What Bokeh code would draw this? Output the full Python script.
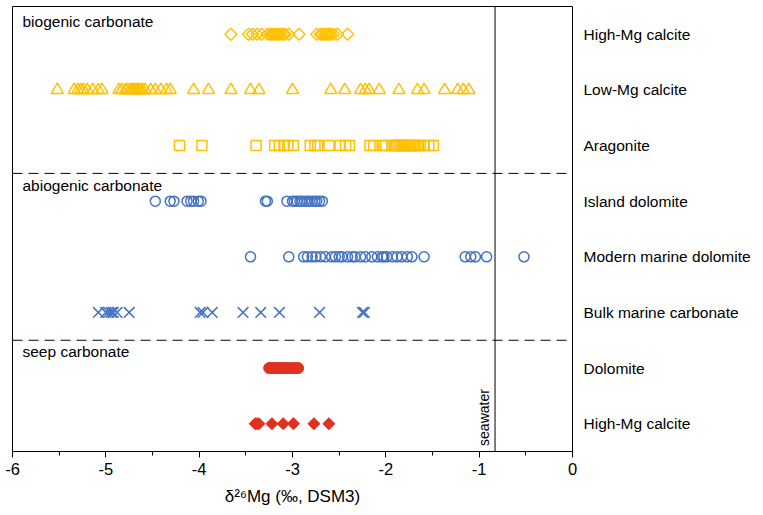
import math
from bokeh.plotting import figure
from bokeh.models import Range1d, FixedTicker, Span, Label
from bokeh.embed import file_html
from bokeh.resources import INLINE

# ---- data (delta26Mg, permil DSM3) ----
bio_high_mg_calcite = [-3.66, -3.47, -3.43, -3.38, -3.33, -3.27, -3.24, -3.22, -3.20, -3.18,
                       -3.16, -3.15, -3.13, -3.10, -3.08, -3.04, -2.93, -2.74, -2.70, -2.68,
                       -2.65, -2.63, -2.61, -2.59, -2.56, -2.52, -2.41]
bio_low_mg_calcite = [-5.52, -5.34, -5.30, -5.27, -5.24, -5.20, -5.14, -5.08, -5.04, -4.86,
                      -4.83, -4.79, -4.77, -4.74, -4.72, -4.70, -4.68, -4.66, -4.65, -4.63,
                      -4.61, -4.58, -4.52, -4.47, -4.41, -4.35, -4.31, -4.06, -3.90, -3.66,
                      -3.45, -3.36, -3.00, -2.59, -2.44, -2.27, -2.22, -2.18, -2.07, -1.86,
                      -1.66, -1.59, -1.37, -1.23, -1.17, -1.11]
bio_aragonite = [-4.21, -3.97, -3.39, -3.19, -3.14, -3.09, -3.05, -2.99, -2.81, -2.76,
                 -2.73, -2.61, -2.49, -2.43, -2.39, -2.17, -2.13, -2.04, -2.00, -1.93,
                 -1.91, -1.89, -1.88, -1.86, -1.84, -1.82, -1.81, -1.79, -1.77, -1.75,
                 -1.74, -1.72, -1.70, -1.68, -1.66, -1.63, -1.59, -1.54, -1.49]
abio_island_dolomite = [-4.47, -4.31, -4.27, -4.13, -4.09, -4.06, -4.01, -3.98, -3.29, -3.27,
                        -3.06, -3.00, -2.98, -2.95, -2.92, -2.90, -2.87, -2.84, -2.82, -2.79,
                        -2.76, -2.74, -2.71, -2.68]
abio_modern_marine_dolomite = [-3.45, -3.04, -2.88, -2.84, -2.79, -2.75, -2.70, -2.65, -2.58,
                               -2.54, -2.50, -2.47, -2.41, -2.36, -2.33, -2.27, -2.22, -2.15,
                               -2.09, -2.04, -2.02, -1.99, -1.93, -1.88, -1.83, -1.77, -1.72,
                               -1.59, -1.15, -1.09, -1.04, -0.92, -0.52]
abio_bulk_marine_carbonate = [-5.08, -5.00, -4.97, -4.94, -4.92, -4.88, -4.75, -3.99, -3.96,
                              -3.86, -3.53, -3.34, -3.14, -2.71, -2.25, -2.23]
seep_dolomite = [-3.25, -3.22, -3.19, -3.16, -3.13, -3.10, -3.07, -3.04, -3.00, -2.97, -2.94]
seep_high_mg_calcite = [-3.40, -3.38, -3.36, -3.22, -3.10, -2.99, -2.77, -2.61]

row_labels = ["High-Mg calcite", "Dolomite", "Bulk marine carbonate", "Modern marine dolomite",
              "Island dolomite", "Aragonite", "Low-Mg calcite", "High-Mg calcite"]
row_pos = [1, 2, 3, 4, 5, 6, 7, 8]
x_ticks = [-6, -5, -4, -3, -2, -1, 0]
x_minor = [-5.5, -4.5, -3.5, -2.5, -1.5, -0.5]
group_names = ["biogenic carbonate", "abiogenic carbonate", "seep carbonate"]
group_label_y = [8.23, 5.29, 2.29]
group_dividers = [5.5, 2.5]
seawater = -0.83

GOLD = "#FFC000"
BLUE = "#4472C4"
RED = "#E0301E"
FONT = "Liberation Sans"

p = figure(width=763, height=515, output_backend="svg", toolbar_location=None,
           x_range=Range1d(-6, 0), y_range=Range1d(0.5, 8.5),
           y_axis_location="right", min_border_left=12, min_border_top=6,
           min_border_right=191, min_border_bottom=64)
p.background_fill_color = "white"
p.border_fill_color = "white"
p.outline_line_color = "black"
p.outline_line_width = 1
p.xgrid.visible = False
p.ygrid.visible = False

# x axis
xa = p.xaxis[0]
xa.ticker = FixedTicker(ticks=x_ticks, minor_ticks=x_minor)
xa.major_label_overrides = {t: str(t) for t in x_ticks}
xa.major_tick_out = 6
xa.major_tick_in = 0
xa.minor_tick_out = 4
xa.minor_tick_in = 0
xa.axis_line_color = "black"
xa.major_tick_line_color = "black"
xa.minor_tick_line_color = "black"
xa.major_label_text_font = FONT
xa.major_label_text_font_size = "16.5px"
xa.major_label_text_color = "black"
xa.major_label_standoff = 5
xa.axis_label = "δ²⁶Mg (‰, DSM3)"
xa.axis_label_text_font = FONT
xa.axis_label_text_font_size = "17px"
xa.axis_label_text_font_style = "normal"
xa.axis_label_text_color = "black"
xa.axis_label_standoff = 9

# right axis with category names
ya = p.yaxis[0]
ya.ticker = FixedTicker(ticks=row_pos, minor_ticks=[])
ya.major_label_overrides = {k: v for k, v in zip(row_pos, row_labels)}
ya.major_tick_out = 0
ya.major_tick_in = 0
ya.minor_tick_out = 0
ya.minor_tick_in = 0
ya.axis_line_color = None
ya.major_label_standoff = 11
ya.major_label_text_font = FONT
ya.major_label_text_font_size = "15.5px"
ya.major_label_text_color = "black"

# markers
def ys(vals, k):
    return [k] * len(vals)

p.scatter(bio_high_mg_calcite, ys(bio_high_mg_calcite, 8), marker="square", angle=math.pi / 4,
          size=8.5, fill_color=None, line_color=GOLD, line_width=1.5)
p.scatter(bio_low_mg_calcite, ys(bio_low_mg_calcite, 7), marker="triangle",
          size=12, fill_color=None, line_color=GOLD, line_width=1.5)
p.scatter(bio_aragonite, ys(bio_aragonite, 6), marker="square",
          size=10, fill_color=None, line_color=GOLD, line_width=1.5)
p.scatter(abio_island_dolomite, ys(abio_island_dolomite, 5), marker="circle",
          size=10, fill_color=None, line_color=BLUE, line_width=1.5)
p.scatter(abio_modern_marine_dolomite, ys(abio_modern_marine_dolomite, 4), marker="circle",
          size=10, fill_color=None, line_color=BLUE, line_width=1.5)
p.scatter(abio_bulk_marine_carbonate, ys(abio_bulk_marine_carbonate, 3), marker="x",
          size=15, line_color=BLUE, line_width=1.5)
p.scatter(seep_dolomite, ys(seep_dolomite, 2), marker="circle",
          size=11, fill_color=RED, line_color=RED, line_width=1)
p.scatter(seep_high_mg_calcite, ys(seep_high_mg_calcite, 1), marker="square", angle=math.pi / 4,
          size=8.5, fill_color=RED, line_color=RED, line_width=1)

# dividers and seawater line
for yv in group_dividers:
    p.add_layout(Span(location=yv, dimension="width", line_color="black",
                      line_width=1, line_dash="10 6"))
p.add_layout(Span(location=seawater, dimension="height", line_color="black", line_width=1))

for name, yv in zip(group_names, group_label_y):
    p.add_layout(Label(x=-6, y=yv, x_offset=10, text=name, text_font=FONT,
                       text_font_size="15.5px", text_baseline="middle", text_align="left",
                       text_color="black"))

p.add_layout(Label(x=seawater, y=0.6, x_offset=-3, text="seawater", angle=math.pi / 2,
                   text_font=FONT, text_font_size="14px", text_align="left",
                   text_baseline="bottom", text_color="black"))

open("out.html", "w").write(file_html(p, INLINE))
